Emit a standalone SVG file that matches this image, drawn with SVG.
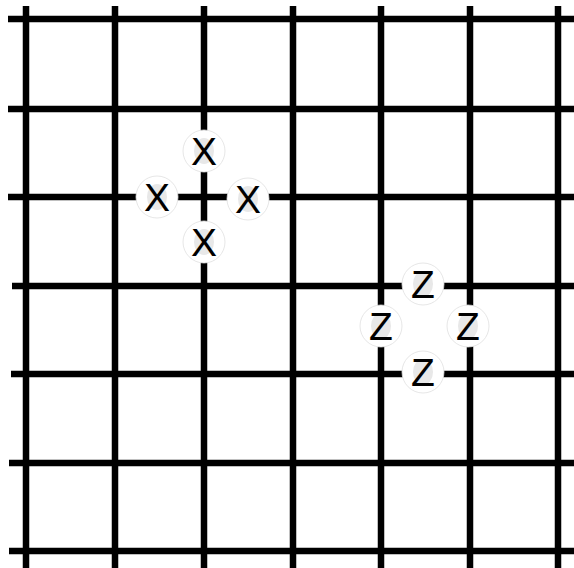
<svg xmlns="http://www.w3.org/2000/svg" width="574" height="568" viewBox="0 0 574 568">
<style>
.g{stroke:#000;stroke-width:6.5;fill:none}
.c{fill:#fff;stroke:#e0e0e0;stroke-width:0.8}
.s{fill:#e8e8e8}
.t{font-family:"Liberation Sans",Arial,sans-serif;font-size:39px;fill:#000;text-anchor:middle}
</style>
<rect width="574" height="568" fill="#fff"/>
<g id="grid" class="g">
<line x1="26" y1="6" x2="26" y2="568"/>
<line x1="115" y1="6" x2="115" y2="568"/>
<line x1="204" y1="6" x2="204" y2="568"/>
<line x1="293" y1="6" x2="293" y2="568"/>
<line x1="381" y1="6" x2="381" y2="568"/>
<line x1="470" y1="6" x2="470" y2="568"/>
<line x1="558" y1="6" x2="558" y2="568"/>
<line x1="8" y1="19" x2="574" y2="19"/>
<line x1="8" y1="109" x2="574" y2="109"/>
<line x1="8" y1="197" x2="574" y2="197"/>
<line x1="12" y1="286" x2="574" y2="286"/>
<line x1="11" y1="374" x2="574" y2="374"/>
<line x1="9" y1="463" x2="574" y2="463"/>
<line x1="9" y1="551" x2="574" y2="551"/>
</g>
<g id="x-top"><circle class="c" cx="204" cy="151" r="21"/><ellipse class="s" cx="204" cy="151" rx="10" ry="13"/><text class="t" x="204" y="165">X</text></g>
<g id="x-left"><circle class="c" cx="157" cy="197" r="21"/><ellipse class="s" cx="157" cy="197" rx="10" ry="13"/><text class="t" x="157" y="211">X</text></g>
<g id="x-right"><circle class="c" cx="248" cy="199" r="21"/><ellipse class="s" cx="248" cy="199" rx="10" ry="13"/><text class="t" x="248" y="213">X</text></g>
<g id="x-bottom"><circle class="c" cx="204" cy="242" r="21"/><ellipse class="s" cx="204" cy="242" rx="10" ry="13"/><text class="t" x="204" y="256">X</text></g>
<g id="z-top"><circle class="c" cx="423" cy="284" r="21"/><ellipse class="s" cx="423" cy="284" rx="10" ry="13"/><text class="t" x="423" y="298">Z</text></g>
<g id="z-left"><circle class="c" cx="381" cy="326" r="21"/><ellipse class="s" cx="381" cy="326" rx="10" ry="13"/><text class="t" x="381" y="340">Z</text></g>
<g id="z-right"><circle class="c" cx="468" cy="326" r="21"/><ellipse class="s" cx="468" cy="326" rx="10" ry="13"/><text class="t" x="468" y="340">Z</text></g>
<g id="z-bottom"><circle class="c" cx="423" cy="372" r="21"/><ellipse class="s" cx="423" cy="372" rx="10" ry="13"/><text class="t" x="423" y="386">Z</text></g>
</svg>
